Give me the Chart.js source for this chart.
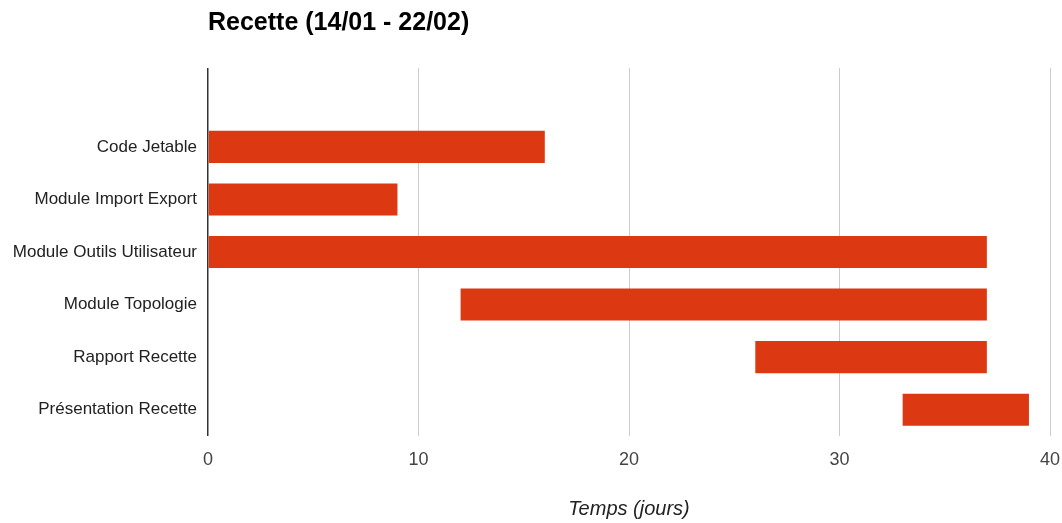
<!DOCTYPE html>
<html>
<head>
<meta charset="utf-8">
<script src="https://cdn.jsdelivr.net/npm/chart.js@4"></script>
<style>
  html, body { margin: 0; padding: 0; background: #fff; }
  #wrap { width: 1062px; height: 523px; position: relative; }
</style>
</head>
<body>
<div id="wrap"><canvas id="c" width="1062" height="523"></canvas></div>
<script>
// Tasks of the acceptance-testing phase (first row left empty as spacing)
const tasks = ['', 'Code Jetable', 'Module Import Export', 'Module Outils Utilisateur', 'Module Topologie', 'Rapport Recette', 'Présentation Recette'];
// Start and end day of each task
const startDays = [null, 0, 0, 0, 12, 26, 33];
const endDays   = [null, 16, 9, 37, 37, 37, 39];
const xTicks = [0, 10, 20, 30, 40];
const chartTitle = 'Recette (14/01 - 22/02)';
const xTitle = 'Temps (jours)';

const spans = tasks.map((t, i) => startDays[i] === null ? null : [startDays[i], endDays[i]]);

// Title drawn flush with the left edge of the plot area
const titlePlugin = {
  id: 'leftTitle',
  afterDraw(chart) {
    const ctx = chart.ctx;
    ctx.save();
    ctx.font = 'bold 25px "Liberation Sans", Arial, sans-serif';
    ctx.fillStyle = '#000';
    ctx.textBaseline = 'middle';
    ctx.textAlign = 'left';
    ctx.fillText(chartTitle, chart.chartArea.left, 23);
    ctx.restore();
  }
};

new Chart(document.getElementById('c'), {
  type: 'bar',
  data: {
    labels: tasks,
    datasets: [{
      data: spans,
      backgroundColor: '#DC3912',
      borderWidth: 0,
      barPercentage: 0.61,
      categoryPercentage: 1
    }]
  },
  options: {
    indexAxis: 'y',
    responsive: false,
    animation: false,
    layout: { padding: { top: 68, right: 12, left: 0, bottom: 0 } },
    plugins: { legend: { display: false }, tooltip: { enabled: false } },
    scales: {
      x: {
        min: 0, max: 40,
        afterBuildTicks(axis) { axis.ticks = xTicks.map(v => ({ value: v })); },
        afterFit(axis) {
          axis.height = 87;
          axis.paddingLeft = 0;
          axis.paddingRight = 0;
        },
        grid: {
          drawTicks: false,
          color: ctx => ctx.tick && ctx.tick.value === 0 ? '#333' : '#cccccc',
          lineWidth: ctx => ctx.tick && ctx.tick.value === 0 ? 1.5 : 1
        },
        border: { display: false },
        ticks: {
          padding: 13,
          color: '#444',
          font: { family: '"Liberation Sans", Arial, sans-serif', size: 18 }
        },
        title: {
          display: true,
          text: xTitle,
          color: '#222',
          padding: { top: 0, bottom: 2 },
          font: { family: '"Liberation Sans", Arial, sans-serif', size: 20, style: 'italic' }
        }
      },
      y: {
        afterFit(axis) { axis.width = 208; },
        grid: { display: false, drawTicks: false },
        border: { display: false },
        ticks: {
          padding: 11,
          color: '#222',
          font: { family: '"Liberation Sans", Arial, sans-serif', size: 17 }
        }
      }
    }
  },
  plugins: [titlePlugin]
});
</script>
</body>
</html>
